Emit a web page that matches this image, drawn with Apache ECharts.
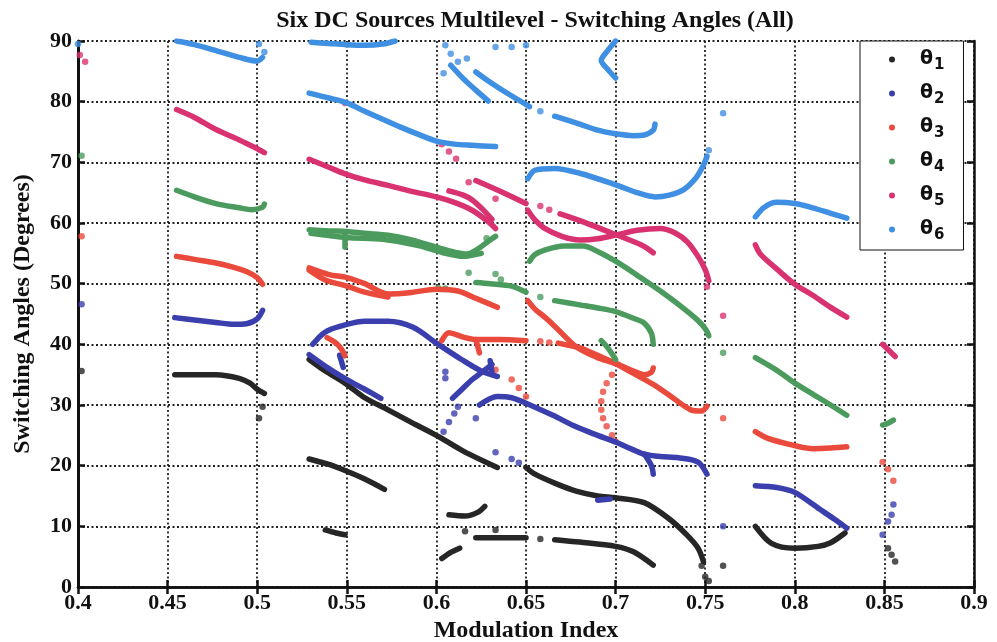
<!DOCTYPE html>
<html>
<head>
<meta charset="utf-8">
<script src="https://cdn.jsdelivr.net/npm/echarts@6/dist/echarts.min.js"></script>
<style>
  html, body { margin: 0; padding: 0; background: #fff; }
  #chart { width: 997px; height: 642px; }
</style>
</head>
<body>
<div id="chart"></div>
<script>
// Switching-angle solution branches, [modulation index, angle in degrees]
const seriesNames = ['θ1', 'θ2', 'θ3', 'θ4', 'θ5', 'θ6'];
const xTickLabels = ['0.4', '0.45', '0.5', '0.55', '0.6', '0.65', '0.7', '0.75', '0.8', '0.85', '0.9'];
const yTickLabels = ['0', '10', '20', '30', '40', '50', '60', '70', '80', '90'];

const theta1Curves = [
  [[0.454,35.0],[0.465,35.0],[0.477,35.0],[0.49,34.4],[0.496,33.6],[0.5,32.6],[0.504,31.9]],
  [[0.529,37.5],[0.538,35.6],[0.549,33.6],[0.56,31.2],[0.573,29.2],[0.585,27.3],[0.6,25.0],[0.615,22.4],[0.634,19.7]],
  [[0.529,21.1],[0.54,20.2],[0.549,19.2],[0.56,17.8],[0.571,16.1]],
  [[0.538,9.4],[0.544,8.9],[0.549,8.6]],
  [[0.65,19.7],[0.655,18.6],[0.667,17.0],[0.678,15.8],[0.69,15.0],[0.7,14.7],[0.716,13.9],[0.73,11.2],[0.74,8.5],[0.746,6.4],[0.749,4.2]],
  [[0.607,11.9],[0.616,11.7],[0.623,12.3],[0.627,13.3]],
  [[0.622,8.1],[0.635,8.1],[0.65,8.1]],
  [[0.666,7.8],[0.68,7.4],[0.7,6.7],[0.71,5.8],[0.721,3.6]],
  [[0.603,4.7],[0.608,5.7],[0.613,6.4]],
  [[0.778,10.0],[0.787,7.2],[0.8,6.4],[0.813,6.7],[0.82,7.3],[0.828,8.9]]
];
const theta1Dots = [[0.402,35.6],[0.503,29.7],[0.501,27.8],[0.75,1.7],[0.752,1.0],[0.748,3.5],
  [0.658,7.9],[0.616,9.2],[0.633,9.4],[0.76,3.5],[0.852,6.4],[0.854,5.3],[0.856,4.2]];

const theta2Curves = [
  [[0.454,44.4],[0.465,44.0],[0.477,43.6],[0.487,43.3],[0.494,43.4],[0.5,44.2],[0.503,45.6]],
  [[0.531,40.0],[0.535,41.3],[0.539,42.2],[0.549,43.2],[0.56,43.8],[0.573,43.8],[0.587,42.8],[0.6,40.2],[0.614,37.5],[0.625,35.6],[0.634,34.7]],
  [[0.529,38.3],[0.54,36.0],[0.55,34.2],[0.56,32.6],[0.569,31.1]],
  [[0.546,38.2],[0.548,36.2]],
  [[0.609,31.1],[0.615,32.8],[0.62,34.2],[0.625,35.3],[0.631,36.7]],
  [[0.63,37.3],[0.631,35.5]],
  [[0.624,30.0],[0.634,31.4],[0.642,31.2],[0.65,30.3],[0.665,28.3],[0.678,26.4],[0.69,25.0],[0.7,23.9],[0.71,22.6],[0.716,21.9],[0.725,21.5],[0.735,21.3],[0.746,20.6],[0.751,18.6]],
  [[0.716,21.9],[0.72,20.0],[0.721,18.6]],
  [[0.69,14.3],[0.697,14.5]],
  [[0.778,16.7],[0.79,16.4],[0.8,15.6],[0.814,12.8],[0.822,11.2],[0.829,9.7]]
];
const theta2Dots = [[0.402,46.6],[0.605,35.5],[0.605,34.4],[0.612,29.7],[0.61,28.6],[0.607,27.2],[0.604,25.6],
  [0.622,27.8],[0.633,22.2],[0.642,21.1],[0.646,20.5],[0.76,10.0],[0.855,13.6],[0.854,11.9],[0.852,10.8],[0.849,8.6]];

const theta3Curves = [
  [[0.455,54.5],[0.465,54.0],[0.477,53.4],[0.487,52.7],[0.494,52.0],[0.5,51.0],[0.503,49.9]],
  [[0.529,52.6],[0.54,51.5],[0.55,51.0],[0.56,50.0],[0.573,48.3],[0.585,48.5],[0.6,49.1],[0.612,48.8],[0.622,47.6],[0.634,46.1]],
  [[0.529,52.2],[0.538,50.6],[0.55,49.6],[0.56,48.6],[0.573,47.8]],
  [[0.539,41.1],[0.544,40.2],[0.547,39.2],[0.549,38.1]],
  [[0.651,47.2],[0.655,45.8],[0.66,44.6],[0.666,43.0],[0.678,39.6],[0.69,37.8],[0.7,36.8],[0.71,35.2],[0.721,33.4],[0.73,31.6],[0.742,29.2],[0.748,29.0],[0.751,29.8]],
  [[0.603,40.6],[0.607,41.9],[0.615,41.2],[0.622,40.8],[0.635,40.8],[0.65,40.6]],
  [[0.668,40.2],[0.68,39.4],[0.69,38.2],[0.7,36.9],[0.71,35.6],[0.716,35.0],[0.72,35.4],[0.721,36.1]],
  [[0.622,40.8],[0.624,38.6]],
  [[0.778,25.6],[0.785,24.5],[0.8,23.3],[0.81,22.8],[0.82,22.9],[0.829,23.1]]
];
const theta3Dots = [[0.402,57.8],[0.633,35.8],[0.642,34.2],[0.646,32.8],[0.65,31.4],[0.658,40.5],[0.663,40.3],
  [0.698,35.0],[0.695,33.6],[0.693,32.2],[0.692,30.6],[0.692,29.2],[0.693,27.8],[0.695,26.5],[0.698,25.0],[0.7,24.0],
  [0.76,27.8],[0.849,20.6],[0.852,19.4],[0.855,17.5]];

const theta4Curves = [
  [[0.455,65.4],[0.465,64.3],[0.477,63.2],[0.49,62.5],[0.497,62.2],[0.503,62.6],[0.504,63.1]],
  [[0.529,58.9],[0.54,58.7],[0.55,58.6],[0.56,58.3],[0.573,58.0],[0.585,57.3],[0.6,56.0],[0.61,55.2],[0.617,54.9],[0.623,55.7],[0.629,57.0],[0.633,57.8]],
  [[0.53,58.3],[0.55,57.6],[0.57,57.3],[0.59,56.3],[0.605,55.0],[0.615,54.5],[0.625,55.0]],
  [[0.549,58.0],[0.549,56.0]],
  [[0.622,50.2],[0.63,50.0],[0.642,49.6],[0.65,48.6]],
  [[0.666,47.2],[0.68,46.5],[0.69,46.0],[0.7,45.4],[0.71,44.3],[0.716,43.5],[0.72,41.8],[0.721,40.0]],
  [[0.652,53.7],[0.655,54.8],[0.66,55.5],[0.671,56.2],[0.682,56.2],[0.69,55.3],[0.7,53.7],[0.712,51.4],[0.725,48.8],[0.735,46.6],[0.745,44.2],[0.75,42.6],[0.752,41.4]],
  [[0.692,40.6],[0.696,39.3],[0.7,37.5]],
  [[0.778,37.8],[0.79,35.7],[0.8,33.6],[0.81,31.8],[0.82,30.0],[0.829,28.3]],
  [[0.849,26.7],[0.852,27.0],[0.855,27.5]]
];
const theta4Dots = [[0.402,71.1],[0.628,57.5],[0.618,51.8],[0.633,51.6],[0.636,50.7],[0.658,47.8],[0.76,38.6],[0.601,49.3],[0.605,49.2]];

const theta5Curves = [
  [[0.455,78.7],[0.465,77.4],[0.477,75.4],[0.49,73.7],[0.499,72.4],[0.504,71.6]],
  [[0.529,70.5],[0.54,69.2],[0.549,68.1],[0.56,67.1],[0.573,66.2],[0.585,65.3],[0.6,64.3],[0.61,63.4],[0.62,62.1],[0.629,60.2],[0.633,59.1]],
  [[0.607,65.3],[0.615,64.6],[0.62,63.8],[0.626,62.2],[0.631,60.6]],
  [[0.622,67.0],[0.635,65.3],[0.65,63.2]],
  [[0.669,61.5],[0.68,60.4],[0.7,58.1],[0.715,56.3],[0.721,55.1]],
  [[0.651,62.1],[0.655,60.5],[0.66,59.2],[0.67,57.8],[0.68,57.2],[0.69,57.4],[0.7,58.0],[0.712,58.8],[0.725,59.1],[0.733,58.4],[0.74,56.9],[0.746,54.5],[0.75,52.3],[0.752,50.5]],
  [[0.778,56.4],[0.781,54.8],[0.79,52.4],[0.8,49.9],[0.81,48.1],[0.82,46.1],[0.829,44.5]],
  [[0.849,40.0],[0.856,38.0]]
];
const theta5Dots = [[0.401,87.7],[0.404,86.6],[0.549,79.8],[0.603,73.0],[0.607,71.8],[0.611,70.6],[0.618,66.7],
  [0.633,64.0],[0.658,62.8],[0.663,62.2],[0.76,44.7],[0.751,49.5]];

const theta6Curves = [
  [[0.455,90.0],[0.465,89.4],[0.477,88.4],[0.49,87.3],[0.5,86.7],[0.503,87.3]],
  [[0.53,89.8],[0.54,89.6],[0.55,89.4],[0.56,89.3],[0.57,89.5],[0.577,90.0]],
  [[0.529,81.4],[0.54,80.6],[0.55,79.8],[0.56,78.4],[0.57,77.1],[0.58,75.8],[0.59,74.6],[0.6,73.5],[0.61,73.0],[0.62,72.8],[0.633,72.6]],
  [[0.608,86.0],[0.615,83.8],[0.622,81.9],[0.629,80.1]],
  [[0.622,84.9],[0.63,83.2],[0.64,81.3],[0.652,79.2]],
  [[0.666,77.6],[0.68,76.3],[0.69,75.3],[0.7,74.7],[0.71,74.4],[0.716,74.5],[0.721,75.3],[0.722,76.3]],
  [[0.7,90.0],[0.695,88.2],[0.692,86.8],[0.696,85.2],[0.7,83.9]],
  [[0.651,67.3],[0.655,68.7],[0.666,69.0],[0.68,68.2],[0.7,66.3],[0.712,65.0],[0.722,64.3],[0.73,64.6],[0.738,65.5],[0.745,67.5],[0.749,69.5],[0.751,71.0]],
  [[0.778,61.0],[0.783,62.6],[0.79,63.4],[0.8,63.2],[0.81,62.5],[0.82,61.6],[0.829,60.8]],
  [[0.849,58.3],[0.856,57.5]]
];
const theta6Dots = [[0.4,89.5],[0.501,89.5],[0.504,88.2],[0.604,84.7],[0.605,89.3],[0.608,87.9],[0.612,86.6],[0.617,87.1],
  [0.633,89.0],[0.642,89.0],[0.65,89.3],[0.658,78.4],[0.752,72.0],[0.76,78.1]];

const palette = ['#262626', '#3b3fae', '#ea4a3c', '#4c9b5e', '#d93270', '#3f8fe2'];
const curveSets = [theta1Curves, theta2Curves, theta3Curves, theta4Curves, theta5Curves, theta6Curves];
const dotSets = [theta1Dots, theta2Dots, theta3Dots, theta4Dots, theta5Dots, theta6Dots];

const serifFont = '"Liberation Serif", "DejaVu Serif", serif';

const series = [];
seriesNames.forEach((name, k) => {
  curveSets[k].forEach(seg => {
    series.push({
      name, type: 'line', data: seg, color: palette[k],
      showSymbol: false, smooth: 0.3, silent: true,
      lineStyle: { width: 5.5, color: palette[k], cap: 'round', join: 'round' }
    });
  });
  series.push({
    name, type: 'scatter', data: dotSets[k], color: palette[k],
    symbolSize: 6.5, itemStyle: { color: palette[k] }, silent: true
  });
});

const chart = echarts.init(document.getElementById('chart'));
chart.setOption({
  animation: false,
  backgroundColor: '#fff',
  title: {
    text: 'Six DC Sources Multilevel - Switching Angles (All)',
    left: 530, top: 4, textAlign: 'center',
    textStyle: { fontFamily: serifFont, fontWeight: 'bold', fontSize: 24, color: '#111' }
  },
  grid: { left: 78, right: 23, top: 41, bottom: 55, containLabel: false, outerBoundsMode: 'none' },
  legend: {
    data: seriesNames,
    orient: 'vertical',
    left: 860, top: 41,
    icon: 'circle', itemWidth: 6, itemHeight: 6, itemGap: 7,
    padding: [5, 19, 7, 29],
    backgroundColor: '#fff', borderColor: '#111', borderWidth: 1,
    formatter: n => '{t|θ}{s|' + n.slice(1) + '}',
    textStyle: {
      rich: {
        t: { fontFamily: '"DejaVu Sans", sans-serif', fontWeight: 'bold', fontSize: 19, color: '#111', padding: [0, 0, 0, 20], lineHeight: 24 },
        s: { fontFamily: '"DejaVu Sans", sans-serif', fontWeight: 'bold', fontSize: 15, color: '#111', padding: [12, 0, 0, 1], lineHeight: 24 }
      }
    }
  },
  xAxis: [{
    type: 'value', min: 0.4, max: 0.9, interval: 0.05, position: 'bottom',
    name: 'Modulation Index', nameLocation: 'middle', nameGap: 28,
    nameTextStyle: { fontFamily: serifFont, fontWeight: 'bold', fontSize: 24, color: '#111' },
    axisLine: { lineStyle: { color: '#111', width: 2.5 } },
    axisTick: { inside: true, length: 7, lineStyle: { color: '#111', width: 2.5 } },
    axisLabel: {
      margin: 5, fontFamily: serifFont, fontWeight: 'bold', fontSize: 22, color: '#111',
      formatter: v => xTickLabels[Math.round((v - 0.4) / 0.05)]
    },
    splitLine: { show: true, lineStyle: { color: '#222', width: 1.8, type: [2, 2.5] } }
  }, {
    type: 'value', min: 0.4, max: 0.9, interval: 0.05, position: 'top',
    axisLine: { lineStyle: { color: '#111', width: 2.5 } },
    axisTick: { inside: true, length: 7, lineStyle: { color: '#111', width: 2.5 } },
    axisLabel: { show: false }, splitLine: { show: false }
  }],
  yAxis: [{
    type: 'value', min: 0, max: 90, interval: 10, position: 'left',
    name: 'Switching Angles (Degrees)', nameLocation: 'middle', nameGap: 43,
    nameTextStyle: { fontFamily: serifFont, fontWeight: 'bold', fontSize: 24, color: '#111' },
    axisLine: { lineStyle: { color: '#111', width: 3 } },
    axisTick: { inside: true, length: 7, lineStyle: { color: '#111', width: 2.5 } },
    axisLabel: {
      margin: 6, fontFamily: serifFont, fontWeight: 'bold', fontSize: 22, color: '#111',
      formatter: v => yTickLabels[Math.round(v / 10)]
    },
    splitLine: { show: true, lineStyle: { color: '#222', width: 1.8, type: [2, 2.5] } }
  }, {
    type: 'value', min: 0, max: 90, interval: 10, position: 'right',
    axisLine: { lineStyle: { color: '#111', width: 2.5 } },
    axisTick: { inside: true, length: 7, lineStyle: { color: '#111', width: 2.5 } },
    axisLabel: { show: false }, splitLine: { show: false }
  }],
  series
});
</script>
</body>
</html>
